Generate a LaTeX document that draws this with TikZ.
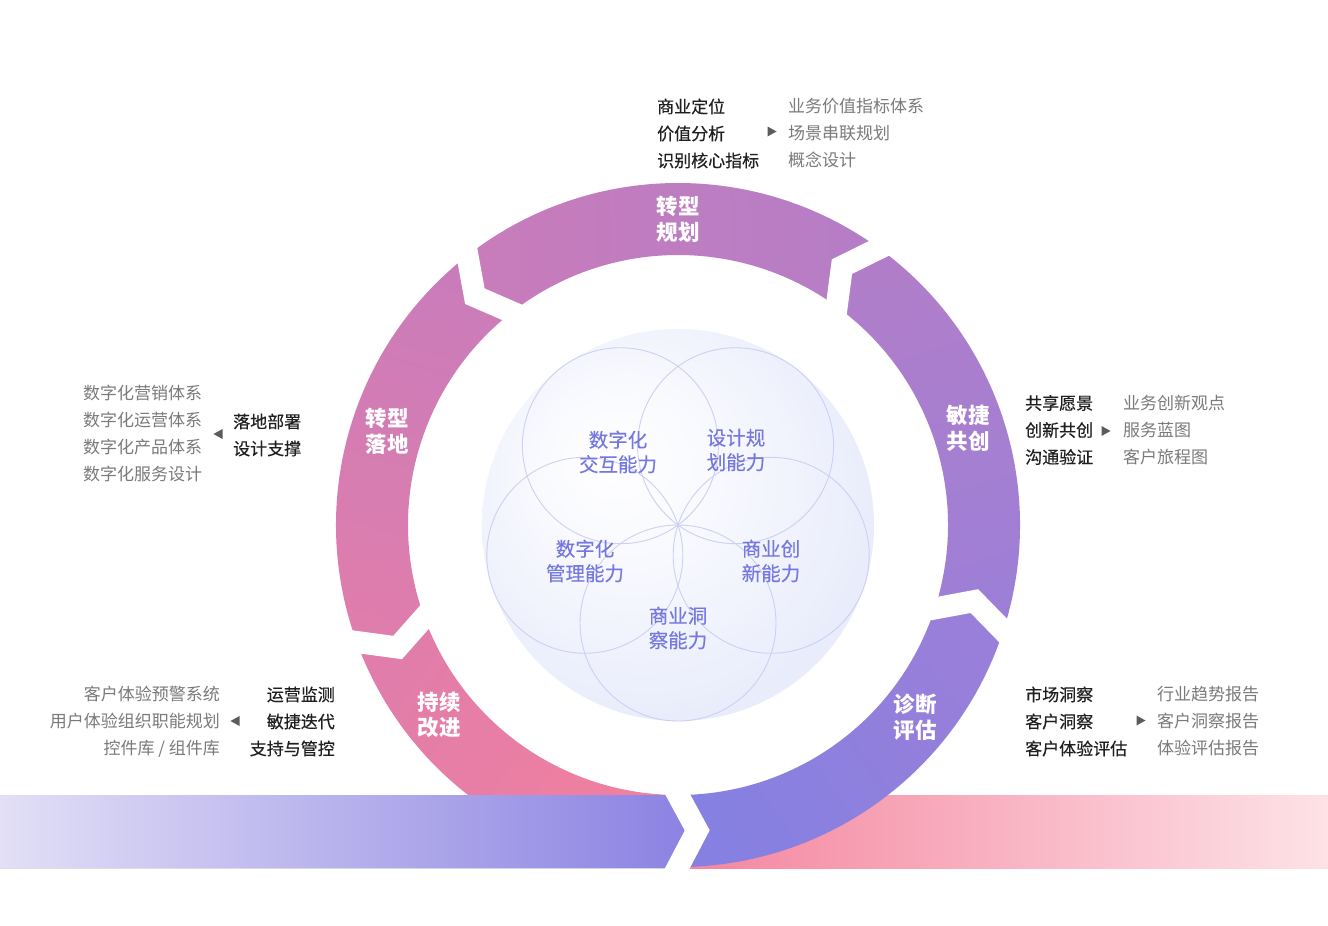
\documentclass[tikz,border=0pt]{standalone}
\usepackage{fontspec}
\newfontfamily\cjk{Noto Sans CJK SC}
\newfontfamily\cjkm{Noto Sans CJK SC}[FakeBold=0.35]
\usetikzlibrary{calc}
\definecolor{darktxt}{HTML}{1F1F1F}
\definecolor{greytxt}{HTML}{7A7A7A}
\definecolor{arrowgrey}{HTML}{5C5C5C}
\definecolor{capcol}{HTML}{7579DF}
\definecolor{circcol}{HTML}{CDCFF3}
\definecolor{sA}{HTML}{F2809E}
\definecolor{sB}{HTML}{E17DAA}
\definecolor{sC}{HTML}{DF7DAC}
\definecolor{sD}{HTML}{CA7CBA}
\definecolor{sE}{HTML}{C97CBA}
\definecolor{sF}{HTML}{B47DC7}
\definecolor{sG}{HTML}{B07EC9}
\definecolor{sH}{HTML}{9D7FD7}
\definecolor{sI}{HTML}{997FD9}
\definecolor{sJ}{HTML}{8580E1}
\definecolor{pinkA}{HTML}{F4849E}
\definecolor{pinkB}{HTML}{FDE2E6}
\definecolor{lavA}{HTML}{E2DFF6}
\definecolor{lavB}{HTML}{8A81E2}
\definecolor{sphA}{HTML}{F8F9FE}
\definecolor{sphB}{HTML}{E4E9FA}
\pgfdeclareradialshading{sphereshade}{\pgfpoint{-9bp}{9bp}}{color(0bp)=(white); color(12bp)=(sphA); color(34bp)=(sphB); color(50bp)=(sphB)}
\newcommand\ringseg[5]{%
  \shade[top color=#4, bottom color=#3, shading angle=#5]
    (#1:342) arc[start angle=#1, end angle=#2, radius=342]
    -- ({#2-3.6}:306) -- (#2:270)
    arc[start angle=#2, end angle=#1, radius=270]
    -- ({#1-3.6}:306) -- cycle;}
\newcommand\ringgap[1]{%
  \coordinate (gm) at ({#1-3.6}:306);
  \coordinate (gi) at (#1:270);
  \coordinate (go) at (#1:342);
  \draw[gapline] ($(gm)!1.35!(gi)$) -- (gm) -- ($(gm)!1.35!(go)$);}
\newcommand\rtri[2]{\fill[arrowgrey] (#1-4.5,#2-5) -- (#1+4.5,#2) -- (#1-4.5,#2+5) -- cycle;}
\newcommand\ltri[2]{\fill[arrowgrey] (#1+4.5,#2-5) -- (#1-4.5,#2) -- (#1+4.5,#2+5) -- cycle;}
\begin{document}
\begin{tikzpicture}[x=1pt,y=-1pt,
  gapline/.style={white, line width=22pt, line join=miter},
  circ/.style={draw=circcol, line width=0.9pt},
  ringlbl/.style={font=\cjk\bfseries\fontsize{21.5}{25.7}\selectfont, text=white, align=center, inner sep=0pt},
  caplbl/.style={font=\cjkm\fontsize{19.5}{24.5}\selectfont, text=capcol, align=center, inner sep=0pt},
  darkcol/.style={font=\cjkm\fontsize{17}{27}\selectfont, text=darktxt, inner sep=0pt},
  greycol/.style={font=\cjk\fontsize{17}{27}\selectfont, text=greytxt, inner sep=0pt}]
\useasboundingbox (0,0) rectangle (1328,926);
\fill[white] (0,0) rectangle (1328,926);
% right pink band
\fill[left color=pinkA, right color=pinkB] (678,795) rectangle (1328,868);
\begin{scope}[shift={(678,525)}]
  \ringseg{90}{160}{sA}{sB}{55}
  \ringseg{160}{232}{sC}{sD}{-16}
  \ringseg{232}{306}{sE}{sF}{-89}
  \ringseg{306}{378}{sG}{sH}{-162}
  \ringseg{378}{450}{sI}{sJ}{126}
\end{scope}
% left lavender band
\fill[left color=lavA, right color=lavB] (0,795) -- (678,795) -- (697.2,830.4) -- (678,868) -- (0,868) -- cycle;
\begin{scope}[shift={(678,525)}]
  \ringgap{90}
  \ringgap{160}
  \ringgap{232}
  \ringgap{306}
  \ringgap{18}
  % sphere
  \shade[shading=sphereshade] (0,0) circle[radius=196];
  \draw[circ] (90:98) circle[radius=98];
  \draw[circ] (18:98) circle[radius=98];
  \draw[circ] (-54:98) circle[radius=98];
  \draw[circ] (234:98) circle[radius=98];
  \draw[circ] (162:98) circle[radius=98];
\end{scope}
% ring labels
\node[ringlbl] (r1) at (678,219.5) {转型\\规划};
\node[ringlbl] (r2) at (968,428) {敏捷\\共创};
\node[ringlbl] (r3) at (915,717.5) {诊断\\评估};
\node[ringlbl] (r4) at (439,715) {持续\\改进};
\node[ringlbl] (r5) at (387,431) {转型\\落地};
% circle labels
\node[caplbl] (c1) at (618,452) {数字化\\交互能力};
\node[caplbl] (c2) at (736,450) {设计规\\划能力};
\node[caplbl] (c3) at (585,561) {数字化\\管理能力};
\node[caplbl] (c4) at (771,561) {商业创\\新能力};
\node[caplbl] (c5) at (678,628) {商业洞\\察能力};
% top block
\node[darkcol, align=left, anchor=west] (t1) at (657,133.5) {商业定位\\价值分析\\识别核心指标};
\node[greycol, align=left, anchor=west] (t2) at (788,133.5) {业务价值指标体系\\场景串联规划\\概念设计};
\rtri{772}{131.5}
% right block
\node[darkcol, align=left, anchor=west] (a1) at (1025,430) {共享愿景\\创新共创\\沟通验证};
\node[greycol, align=left, anchor=west] (a2) at (1123,430) {业务创新观点\\服务蓝图\\客户旅程图};
\rtri{1106}{431}
% bottom right block
\node[darkcol, align=left, anchor=west] (b1) at (1025,721.5) {市场洞察\\客户洞察\\客户体验评估};
\node[greycol, align=left, anchor=west] (b2) at (1157,721.5) {行业趋势报告\\客户洞察报告\\体验评估报告};
\rtri{1141}{720.5}
% bottom left block
\node[darkcol, align=right, anchor=east] (d1) at (335,721.5) {运营监测\\敏捷迭代\\支持与管控};
\node[greycol, align=right, anchor=east] (d2) at (220,721.5) {客户体验预警系统\\用户体验组织职能规划\\控件库 / 组件库};
\ltri{235}{721}
% left block
\node[greycol, align=left, anchor=west] (e1) at (83,434) {数字化营销体系\\数字化运营体系\\数字化产品体系\\数字化服务设计};
\node[darkcol, align=left, anchor=west] (e2) at (233,435) {落地部署\\设计支撑};
\ltri{218}{434}
\end{tikzpicture}
\end{document}
